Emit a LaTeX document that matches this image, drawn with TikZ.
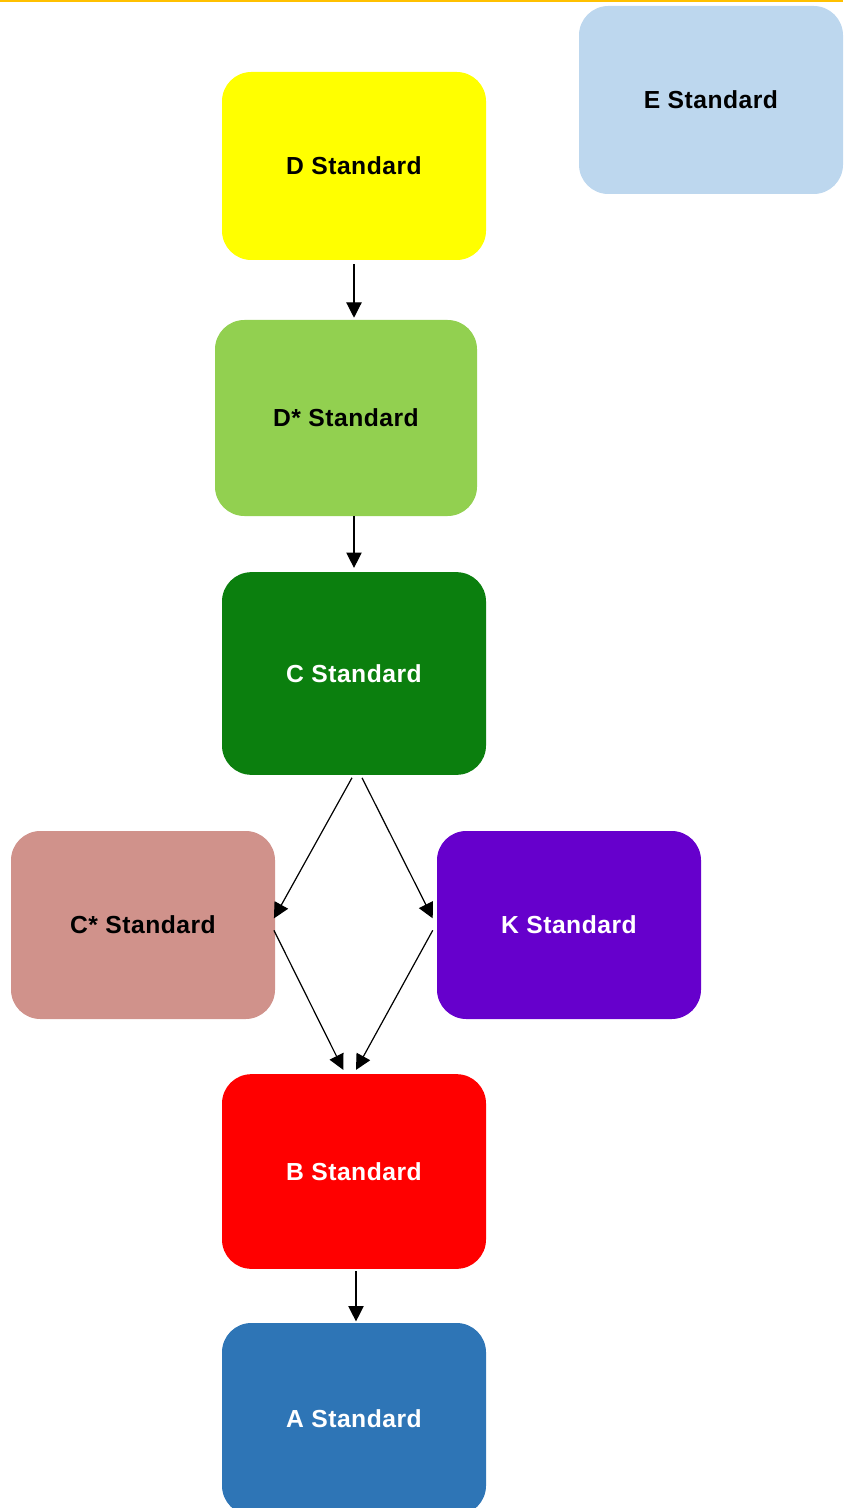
\documentclass[tikz,border=0pt]{standalone}
\usepackage{fontspec}
\newfontfamily\stdfont{Liberation Sans}[LetterSpace=2]
\usetikzlibrary{arrows.meta}

\definecolor{topline}{HTML}{FFC000}
\definecolor{colD}{HTML}{FFFF00}
\definecolor{colDs}{HTML}{92D050}
\definecolor{colC}{HTML}{0B7F0E}
\definecolor{colCs}{HTML}{D0928B}
\definecolor{colK}{HTML}{6600CC}
\definecolor{colB}{HTML}{FF0000}
\definecolor{colA}{HTML}{2E75B6}
\definecolor{colE}{HTML}{BDD7EE}

\tikzset{
  stdbox/.style={rectangle, rounded corners=22pt, minimum width=198pt,
    minimum height=141pt, inner sep=0pt, text=black,
    font=\stdfont\bfseries\fontsize{18.5pt}{21pt}\selectfont},
  stdarrow/.style={-{Triangle[length=11.5pt,width=11.5pt]}, line width=0.9pt, black}
}

\begin{document}
\begin{tikzpicture}[x=0.75pt,y=-0.75pt]
\useasboundingbox (0,0) rectangle (843,1508);
\fill[topline] (0,0) rectangle (843,2);

\node[stdbox, fill=colE] (E) at (711,100) {E Standard};
\node[stdbox, fill=colD] (D) at (354,166) {D Standard};
\node[stdbox, fill=colDs, minimum width=196.5pt, minimum height=147pt] (Ds) at (346,418) {D* Standard};
\node[stdbox, fill=colC, text=white, minimum height=152pt] (C) at (354,673.5) {C Standard};
\node[stdbox, fill=colCs] (Cs) at (143,925) {C* Standard};
\node[stdbox, fill=colK, text=white] (K) at (569,925) {K Standard};
\node[stdbox, fill=colB, text=white, minimum height=146pt] (B) at (354,1171.5) {B Standard};
\node[stdbox, fill=colA, text=white, minimum height=144pt] (A) at (354,1419) {A Standard};

\draw[stdarrow] ([yshift=-3pt]D.south) -- ([yshift=1.5pt]D.south |- Ds.north);
\draw[stdarrow] (D.south |- Ds.south) -- ([yshift=3pt]C.north);
\draw[stdarrow] ([xshift=-1.5pt,yshift=-2pt]C.south) -- ([xshift=-1pt,yshift=5pt]Cs.east);
\draw[stdarrow] ([xshift=6pt,yshift=-2pt]C.south) -- ([xshift=-3pt,yshift=5pt]K.west);
\draw[stdarrow] ([xshift=-1pt,yshift=-4pt]Cs.east) -- ([xshift=-8pt,yshift=3pt]B.north);
\draw[stdarrow] ([xshift=-3pt,yshift=-4pt]K.west) -- ([xshift=1.5pt,yshift=3pt]B.north);
\draw[stdarrow] ([xshift=1.5pt,yshift=-1.5pt]B.south) -- ([xshift=1.5pt,yshift=1pt]A.north);

\end{tikzpicture}
\end{document}
